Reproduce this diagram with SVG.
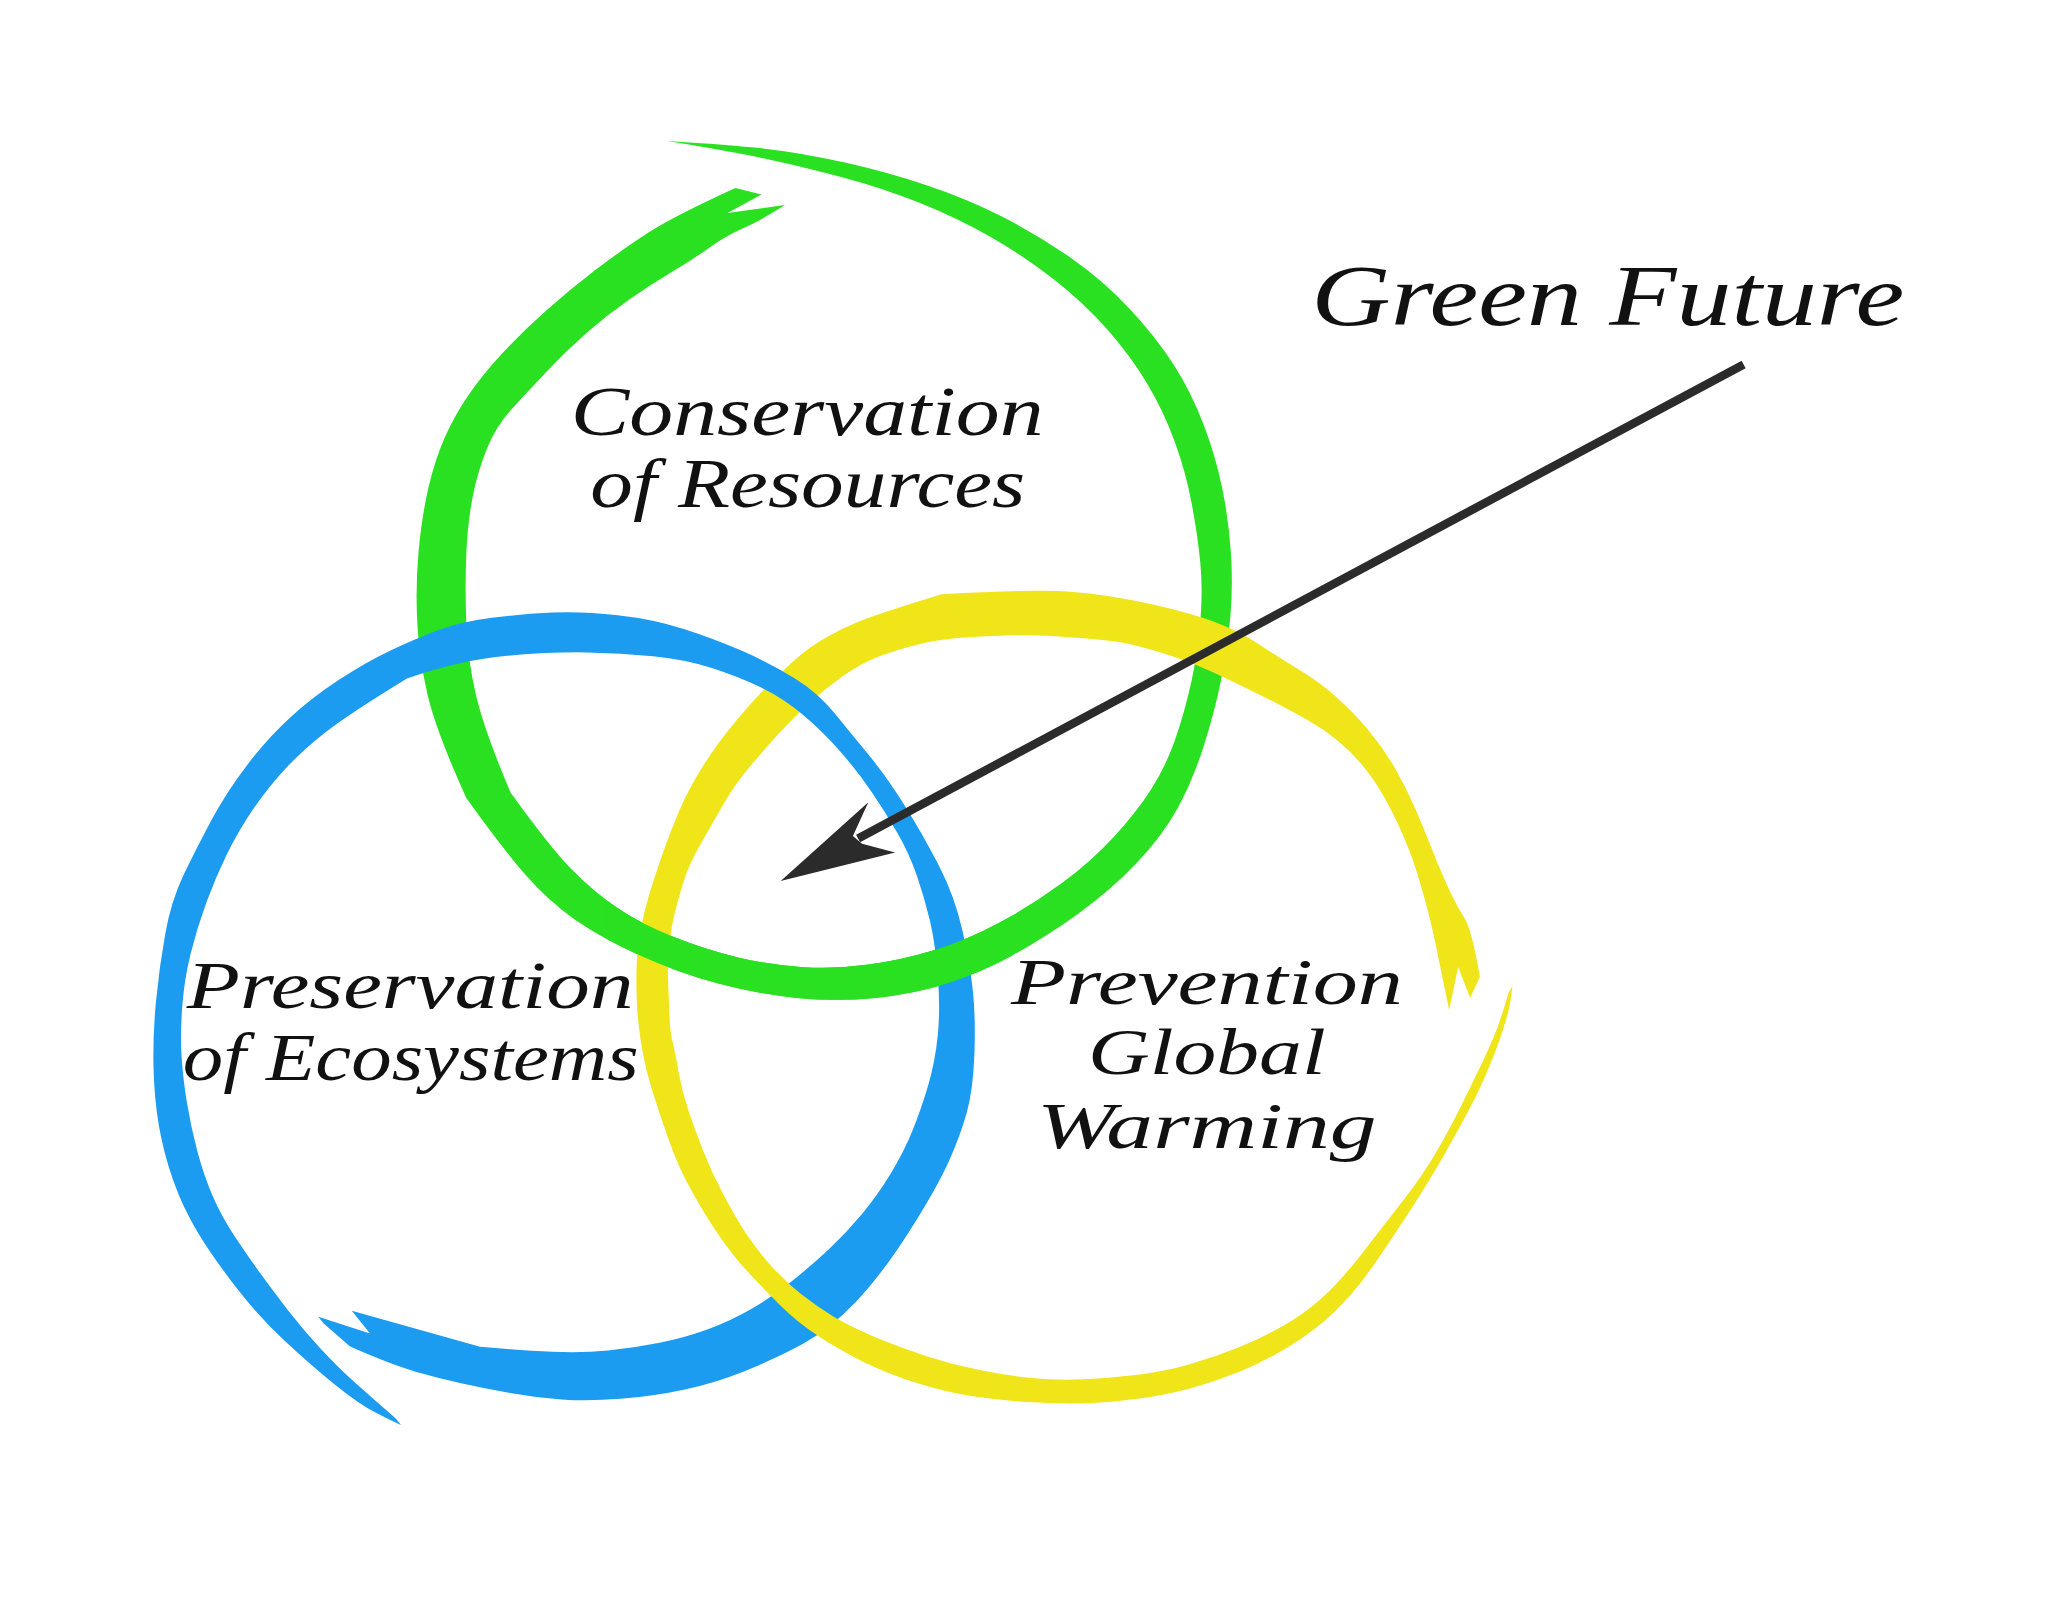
<svg xmlns="http://www.w3.org/2000/svg" xmlns:xlink="http://www.w3.org/1999/xlink" width="2048" height="1613" viewBox="0 0 2048 1613">
<style>
.lbl{font-family:"Liberation Serif","DejaVu Serif",serif;font-style:italic;fill:#111;}
.green{fill:#29e021;}
.yellow{fill:#f0e519;}
.blue{fill:#1b9cf0;}
.shaft{stroke:#2b2b2b;stroke-width:6.5;fill:none;}
.head{fill:#2b2b2b;}
</style>
<defs>
<path id="ringGreen" d="M563,144 Q515,166 495,179 Q475,192 455.5,207 Q436,222 418,238 Q400,254 385,270 Q370,286 359,302 Q348,318 340.5,335 Q333,352 328,373.5 Q323,395 320.5,422 Q318,449 319.5,477 Q321,505 327.5,532.5 Q334,560 357,611 Q385,650 402.5,670 Q420,690 440,704 Q460,718 490,731.5 Q520,745 550,753 Q580,761 610,764 Q640,767 670,764 Q700,761 725,753 Q750,745 775,731.5 Q800,718 825,700 Q850,682 870,661 Q890,640 901.5,619 Q913,598 921.5,571.5 Q930,545 935,520 Q940,495 942,472 Q944,449 942.5,424.5 Q941,400 936,375 Q931,350 921.5,325 Q912,300 898.5,279 Q885,258 865,236.5 Q845,215 820,197.5 Q795,180 767.5,166 Q740,152 710,142 Q680,132 647,124.5 Q614,117 587,114 Q560,111 511,108 Q560,116 586,121.5 Q612,127 644,135.5 Q676,144 704.5,155.5 Q733,167 758.5,181.5 Q784,196 807,214 Q830,232 848,252.5 Q866,273 878.5,294 Q891,315 899.5,338.5 Q908,362 912.5,386 Q917,410 919,431 Q921,452 919,476 Q917,500 912,522.5 Q907,545 900,565.5 Q893,586 881.5,604 Q870,622 852.5,641 Q835,660 812.5,676.5 Q790,693 765,706.5 Q740,720 715,727.5 Q690,735 665,738.5 Q640,742 615,740.5 Q590,739 565,733 Q540,727 515,717 Q490,707 472.5,695 Q455,683 438.5,666.5 Q422,650 391,607 Q371,560 364.5,532.5 Q358,505 357,477 Q356,449 357,424.5 Q358,400 362,380 Q366,360 373,343 Q380,326 391.5,313.5 Q403,301 418,285 Q433,269 449,255 Q465,241 481.5,229.5 Q498,218 514,208.5 Q530,199 542.5,190 Q555,181 568.5,175 Q582,169 601,157 L557,163 L583,149 Z"/>
<path id="ringYellow" d="M1158,755 Q1157,766 1154.5,775.5 Q1152,785 1148,796.5 Q1144,808 1137.5,823 Q1131,838 1123,853 Q1115,868 1105,885.5 Q1095,903 1081.5,924 Q1068,945 1052.5,967.5 Q1037,990 1021,1005 Q1005,1020 986,1031.5 Q967,1043 948.5,1050.5 Q930,1058 911,1063 Q892,1068 871,1071 Q850,1074 829.5,1074.5 Q809,1075 787,1073.5 Q765,1072 745,1069 Q725,1066 702.5,1059 Q680,1052 661,1042.5 Q642,1033 626,1022.5 Q610,1012 597.5,999.5 Q585,987 572.5,973.5 Q560,960 550.5,946 Q541,932 530.5,913.5 Q520,895 513,875.5 Q506,856 500,837 Q494,818 491,799.5 Q488,781 487.5,765.5 Q487,750 487.5,738 Q488,726 490.5,712 Q493,698 497,685 Q501,672 506.5,656 Q512,640 519.5,622 Q527,604 538.5,586 Q550,568 563,552.5 Q576,537 588,525 Q600,513 610,504 Q620,495 632.5,488 Q645,481 658.5,475.5 Q672,470 721,455 Q791,451 819.5,453 Q848,455 881,462.5 Q914,470 932,477 Q950,484 965,494 Q980,504 995,513 Q1010,522 1023.5,534 Q1037,546 1048.5,560 Q1060,574 1068.5,589 Q1077,604 1083.5,619 Q1090,634 1096.5,650.5 Q1103,667 1109,680 Q1115,693 1121,702.5 Q1127,712 1133,748 L1125.6,764 L1116.4,740.4 L1109.5,773 Q1103,742 1100,727 Q1097,712 1093.5,698.5 Q1090,685 1085.5,670 Q1081,655 1074.5,640 Q1068,625 1060.5,611.5 Q1053,598 1044,587 Q1035,576 1024,567 Q1013,558 1001.5,551.5 Q990,545 978.5,539 Q967,533 953.5,526.5 Q940,520 927,514 Q914,508 899.5,503 Q885,498 871,494.5 Q857,491 838.5,489.5 Q820,488 805.5,487 Q791,486 770.5,486.5 Q750,487 733,488.5 Q716,490 700.5,494 Q685,498 672,503 Q659,508 645.5,517.5 Q632,527 619.5,538.5 Q607,550 596,562 Q585,574 574,587 Q563,600 554,615.5 Q545,631 536,647 Q527,663 523.5,674.5 Q520,686 517,697.5 Q514,709 512.5,723 Q511,737 511.5,750.5 Q512,764 512.5,777 Q513,790 515,798 Q517,806 519.5,820.5 Q522,835 527,850 Q532,865 538.5,881.5 Q545,898 554,915 Q563,932 571.5,945 Q580,958 591,970 Q602,982 613.5,991 Q625,1000 638,1008 Q651,1016 670.5,1024 Q690,1032 710,1038.5 Q730,1045 750,1049 Q770,1053 789.5,1055 Q809,1057 829.5,1056 Q850,1055 871,1052.5 Q892,1050 911,1044.5 Q930,1039 948.5,1031.5 Q967,1024 983.5,1014.5 Q1000,1005 1013.5,992.5 Q1027,980 1042.5,960 Q1058,940 1074,919.5 Q1090,899 1100,881.5 Q1110,864 1117.5,849 Q1125,834 1132,819.5 Q1139,805 1144,793 Q1149,781 1155,760 Z"/>
<path id="ringBlue" d="M243.7,1008.1 L247.6,1013.2 L268,1031 Q300,1045 317.5,1050 Q335,1055 353,1059 Q371,1063 390.5,1066.5 Q410,1070 430,1071.5 Q450,1073 475,1071 Q500,1069 523.5,1064 Q547,1059 569.5,1050 Q592,1041 613.5,1029.5 Q635,1018 655,997 Q675,976 696,943 Q717,910 726.5,889 Q735,870 740,852.5 Q745,835 746,807.5 Q747,780 745,760 Q743,740 737,713 Q731,686 718.5,662 Q706,638 692.5,616.5 Q679,595 665.5,578.5 Q652,562 639,546 Q626,530 608,519 Q590,508 568.5,498.5 Q547,489 523.5,481.5 Q500,474 473,471 Q446,468 423,469 Q400,470 376.5,473 Q353,476 335.5,482.5 Q318,489 299,498 Q280,507 259.5,520.5 Q239,534 222,549.5 Q205,565 189,586 Q173,607 161.5,628.5 Q150,650 140.5,670 Q131,690 126.5,715 Q122,740 119.5,766 Q117,792 117.5,816 Q118,840 121.5,861 Q125,882 132.5,903.5 Q140,925 152,944.5 Q164,964 181,986 Q198,1008 218.5,1027 Q239,1046 257,1060.5 Q275,1075 287.5,1081.5 Q300,1088 307,1091 L303,1086 Q280,1066 269,1056 Q258,1046 245,1032 Q232,1018 220,1002.5 Q208,987 199,974.5 Q190,962 180,947 Q170,932 163,916 Q156,900 151,881 Q146,862 143,843.5 Q140,825 139,808.5 Q138,792 139.5,771 Q141,750 146,730 Q151,710 158,691 Q165,672 173.5,654.5 Q182,637 193.5,620 Q205,603 218.5,588.5 Q232,574 250,560 Q268,546 311.6,519.4 Q353,505 388.5,502 Q424,499 449.5,499.5 Q475,500 500,502.5 Q525,505 545,511.5 Q565,518 582,526 Q599,534 614.5,547 Q630,560 643.5,575.5 Q657,591 667.5,606.5 Q678,622 687,637.5 Q696,653 702,670.5 Q708,688 712,705 Q716,722 718,747 Q720,772 718,792.5 Q716,813 710.5,831.5 Q705,850 698.5,866 Q692,882 682,898.5 Q672,915 660,929.5 Q648,944 634,957 Q620,970 605.5,981.5 Q591,993 575.5,1002 Q560,1011 542.5,1017.5 Q525,1024 505,1028 Q485,1032 465.5,1034 Q446,1036 423,1035 Q400,1034 367.5,1031.1 L269.3,1003.6 L283.3,1020.9 Z"/>
<clipPath id="clipGreenOver" clipPathUnits="userSpaceOnUse"><rect x="465" y="672" width="310" height="118"/></clipPath>
<clipPath id="clipYellowOver" clipPathUnits="userSpaceOnUse"><rect x="560" y="945" width="105" height="100"/></clipPath>
</defs>
<rect x="0" y="0" width="2048" height="1613" fill="#ffffff"/>
<g transform="scale(1.306122)">
  <g id="node-conservation">
    <use xlink:href="#ringGreen" class="green"/>
  </g>
  <g id="node-prevention">
    <use xlink:href="#ringYellow" class="yellow"/>
  </g>
  <g id="node-preservation">
    <use xlink:href="#ringBlue" class="blue"/>
  </g>
  <g id="weave">
    <use xlink:href="#ringGreen" class="green" clip-path="url(#clipGreenOver)"/>
    <use xlink:href="#ringYellow" class="yellow" clip-path="url(#clipYellowOver)"/>
  </g>
  <g id="labels">
    <text class="lbl" x="437" y="333" font-size="54" textLength="362" lengthAdjust="spacingAndGlyphs">Conservation</text>
    <text class="lbl" x="452" y="388" font-size="54" textLength="333" lengthAdjust="spacingAndGlyphs">of Resources</text>
    <text class="lbl" x="143" y="772" font-size="52" textLength="342" lengthAdjust="spacingAndGlyphs">Preservation</text>
    <text class="lbl" x="140" y="827" font-size="52" textLength="349" lengthAdjust="spacingAndGlyphs">of Ecosystems</text>
    <text class="lbl" x="774" y="769" font-size="50" textLength="300" lengthAdjust="spacingAndGlyphs">Prevention</text>
    <text class="lbl" x="833" y="822" font-size="50" textLength="182" lengthAdjust="spacingAndGlyphs">Global</text>
    <text class="lbl" x="794" y="879" font-size="50" textLength="260" lengthAdjust="spacingAndGlyphs">Warming</text>
  </g>
  <g id="node-green-future">
    <text class="lbl" x="1004" y="249" font-size="66" textLength="454" lengthAdjust="spacingAndGlyphs">Green Future</text>
  </g>
  <g id="connectors">
    <line class="shaft" x1="1335" y1="279" x2="657" y2="642"/>
    <path class="head" d="M597.7,674.5 L664.8,614.3 L653,640 L660,646 L685.3,652.6 Z"/>
  </g>
</g>
</svg>
